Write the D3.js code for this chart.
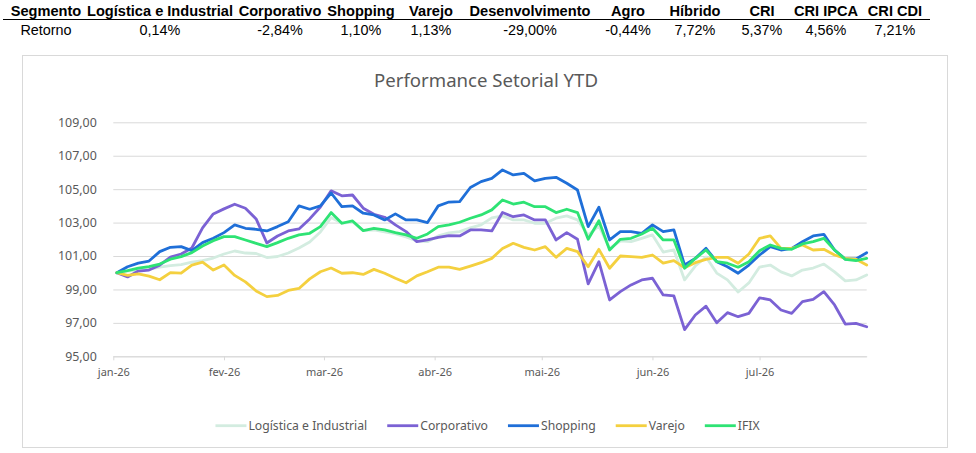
<!DOCTYPE html>
<html><head><meta charset="utf-8">
<script src="https://cdn.jsdelivr.net/npm/d3@7"></script>
<style>body{margin:0;background:#fff;} svg{display:block}</style>
</head><body><svg id="c" width="976" height="453"></svg>
<script>
// ---------- DATA ----------
const dates = ["2026-01-02","2026-01-05","2026-01-08","2026-01-11","2026-01-14","2026-01-17","2026-01-20","2026-01-23","2026-01-26","2026-01-29",
"2026-02-01","2026-02-04","2026-02-07","2026-02-10","2026-02-13","2026-02-16","2026-02-19","2026-02-22","2026-02-25","2026-02-28",
"2026-03-03","2026-03-06","2026-03-09","2026-03-12","2026-03-15","2026-03-18","2026-03-21","2026-03-24","2026-03-27","2026-03-30",
"2026-04-02","2026-04-05","2026-04-08","2026-04-11","2026-04-14","2026-04-17","2026-04-20","2026-04-23","2026-04-26","2026-04-29",
"2026-05-02","2026-05-05","2026-05-08","2026-05-11","2026-05-14","2026-05-17","2026-05-20","2026-05-23","2026-05-26","2026-05-29",
"2026-06-01","2026-06-04","2026-06-07","2026-06-10","2026-06-13","2026-06-16","2026-06-19","2026-06-22","2026-06-25","2026-06-28",
"2026-07-01","2026-07-04","2026-07-07","2026-07-10","2026-07-13","2026-07-16","2026-07-19","2026-07-22","2026-07-25","2026-07-28","2026-07-31"];

const logistica = [100,100.1,100.16,100.22,100.34,100.43,100.49,100.64,100.73,100.88,
101.12,101.3,101.18,101.15,100.91,100.97,101.18,101.48,101.84,102.44,
103.3,102.96,103.04,102.52,102.56,102.44,102.32,102.14,101.9,101.86,
102.2,102.38,102.46,102.68,102.86,103.28,103.4,103.16,103.16,102.96,
102.96,103.26,103.4,103.16,102.26,102.8,101.46,101.9,101.86,102.06,
102.26,101.24,101.36,99.57,100.4,100.94,99.98,99.57,98.85,99.39,
100.34,100.46,100.05,99.81,100.16,100.28,100.52,100.05,99.51,99.57,99.87];

const corporativo = [100,99.75,100.1,100.16,100.45,100.94,101.12,101.48,102.68,103.52,
103.82,104.1,103.86,103.22,101.78,102.2,102.5,102.62,103.22,103.93,
104.9,104.6,104.65,103.86,103.5,103.32,102.86,102.46,101.86,101.96,
102.12,102.22,102.2,102.56,102.56,102.5,103.6,103.35,103.46,103.16,
103.16,101.96,102.4,102.0,99.33,100.66,98.37,98.87,99.27,99.57,
99.67,98.67,98.61,96.6,97.47,98.0,97.01,97.61,97.37,97.57,
98.5,98.37,97.77,97.57,98.27,98.41,98.87,98.07,96.93,96.97,96.77];

const shopping = [100,100.36,100.57,100.7,101.26,101.52,101.56,101.32,101.8,102.06,
102.4,102.86,102.66,102.6,102.5,102.76,103.05,104.0,103.8,104.0,
104.77,103.95,104.0,103.56,103.46,103.16,103.52,103.16,103.16,103.0,
104.0,104.23,104.25,105.1,105.45,105.65,106.15,105.85,105.95,105.49,
105.65,105.71,105.35,104.95,102.76,103.92,101.96,102.46,102.46,102.36,
102.86,102.46,102.56,100.46,100.86,101.46,100.66,100.36,99.97,100.46,
101.06,101.56,101.36,101.46,101.86,102.2,102.3,101.36,100.82,100.82,101.2];

const varejo = [100,99.84,99.93,99.8,99.58,100.01,99.98,100.46,100.64,100.16,
100.46,99.84,99.45,98.91,98.57,98.64,98.94,99.06,99.63,100.06,
100.28,99.97,100.0,99.9,100.2,99.97,99.67,99.4,99.81,100.06,
100.33,100.33,100.2,100.4,100.6,100.86,101.45,101.76,101.52,101.36,
101.56,100.92,101.46,101.26,100.36,101.4,100.27,101.0,100.96,100.92,
101.06,100.57,100.72,100.3,100.6,100.8,100.92,100.92,100.57,101.12,
102.06,102.2,101.46,101.46,101.66,101.36,101.4,101.06,100.86,100.8,100.46];

const ifix = [100,100.12,100.27,100.36,100.52,100.81,100.96,101.2,101.6,101.92,
102.16,102.16,101.96,101.76,101.56,101.8,102.06,102.26,102.36,102.76,
103.6,102.96,103.1,102.52,102.66,102.56,102.4,102.26,102.06,102.32,
102.76,102.86,103.02,103.26,103.46,103.76,104.35,104.11,104.22,103.95,
103.95,103.6,103.8,103.6,102.0,103.11,101.36,102.0,102.06,102.32,
102.66,101.96,101.96,100.27,100.86,101.36,100.66,100.57,100.33,100.66,
101.32,101.66,101.46,101.4,101.72,101.86,102.06,101.36,100.8,100.72,100.86];

const seriesNames = ["Logística e Industrial","Corporativo","Shopping","Varejo","IFIX"];
const seriesColors = ["#d3ece0","#7b62d4","#1f6fd8","#f4d03f","#2ee374"];

const tableHeaders = ["Segmento","Logística e Industrial","Corporativo","Shopping","Varejo","Desenvolvimento","Agro","Híbrido","CRI","CRI IPCA","CRI CDI"];
const tableReturns = ["Retorno","0,14%","-2,84%","1,10%","1,13%","-29,00%","-0,44%","7,72%","5,37%","4,56%","7,21%"];

const yTicks = [95,97,99,101,103,105,107,109];
const xTickLabels = ["jan-26","fev-26","mar-26","abr-26","mai-26","jun-26","jul-26"];
const chartTitle = "Performance Setorial YTD";

// ---------- LAYOUT ----------
const svg = d3.select("#c");
const colCenters = [46,160,280,361,431,530,628,695,762,826,895];
const uiFont = "'Noto Sans', 'Open Sans', sans-serif";
const gray = "#595959";

// table
svg.append("g").selectAll("text").data(tableHeaders).join("text")
  .attr("x",(d,i)=>colCenters[i]).attr("y",16).attr("text-anchor","middle")
  .attr("font-family","'Liberation Sans', Arial, sans-serif").attr("font-weight","bold")
  .attr("font-size",14.6).attr("fill","#000").text(d=>d);
svg.append("line").attr("x1",3).attr("x2",930).attr("y1",19.5).attr("y2",19.5)
  .attr("stroke","#000").attr("stroke-width",1);
svg.append("g").selectAll("text").data(tableReturns).join("text")
  .attr("x",(d,i)=>colCenters[i]).attr("y",35).attr("text-anchor","middle")
  .attr("font-family","'Liberation Sans', Arial, sans-serif")
  .attr("font-size",14.4).attr("fill","#000").text(d=>d);

// chart frame
svg.append("rect").attr("x",22.5).attr("y",55.5).attr("width",925).attr("height",392)
  .attr("fill","#fff").attr("stroke","#d9d9d9").attr("stroke-width",1);

svg.append("text").attr("x",486).attr("y",86.5).attr("text-anchor","middle")
  .attr("font-family",uiFont).attr("font-size",18.6).attr("fill",gray).text(chartTitle);

const parse = d3.timeParse("%Y-%m-%d");
const dts = dates.map(parse);
const x = d3.scaleTime().domain([new Date(2026,0,1), new Date(2026,6,31)]).range([113.3,866.7]);
const y = d3.scaleLinear().domain([95,109]).range([356.3,122.3]);

const locale = d3.formatLocale({decimal:",",thousands:".",grouping:[3],currency:["R$",""]});
const fmt = locale.format(".2f");

// y grid + labels
const gy = svg.append("g").attr("transform","translate(113.3,0)")
  .call(d3.axisLeft(y).tickValues(yTicks).tickFormat(fmt).tickSize(-(866.7-113.3)).tickPadding(16.5));
gy.select(".domain").remove();
gy.selectAll(".tick line").attr("stroke","#d9d9d9").attr("stroke-width",1);
gy.selectAll(".tick text").attr("fill",gray).attr("font-family",uiFont).attr("font-size",12.4);

// x axis
const months = d3.timeMonth.range(new Date(2026,0,1), new Date(2026,6,2));
const gx = svg.append("g").attr("transform","translate(0,356.3)")
  .call(d3.axisBottom(x).tickValues(months).tickFormat((d,i)=>xTickLabels[i]).tickSize(4).tickPadding(8).tickSizeOuter(0));
gx.select(".domain").attr("stroke","#d9d9d9");
gx.selectAll(".tick line").attr("stroke","#d9d9d9");
gx.selectAll(".tick text").attr("fill",gray).attr("font-family",uiFont).attr("font-size",11);

// lines
const allSeries = [logistica, corporativo, shopping, varejo, ifix];
const line = d3.line().x((d,i)=>x(dts[i])).y(d=>y(d));
svg.append("g").selectAll("path").data(allSeries).join("path")
  .attr("d",line).attr("fill","none")
  .attr("stroke",(d,i)=>seriesColors[i]).attr("stroke-width",2.8)
  .attr("stroke-linejoin","round").attr("stroke-linecap","round");

// legend
const lg = svg.append("g");
const items = lg.selectAll("g").data(seriesNames).join("g");
items.append("line").attr("x1",0).attr("x2",31).attr("y1",0).attr("y2",0)
  .attr("stroke",(d,i)=>seriesColors[i]).attr("stroke-width",2.8);
items.append("text").attr("x",33).attr("y",0).attr("dy","0.35em")
  .attr("font-family",uiFont).attr("font-size",12.2).attr("fill",gray).text(d=>d);
let widths = [];
items.each(function(){ widths.push(33 + this.querySelector("text").getComputedTextLength()); });
const gap = 20;
const total = d3.sum(widths) + gap*(widths.length-1);
let cx = 487.5 - total/2;
items.attr("transform",(d,i)=>{ const t = `translate(${cx},425.7)`; cx += widths[i] + gap; return t; });
</script></body></html>
